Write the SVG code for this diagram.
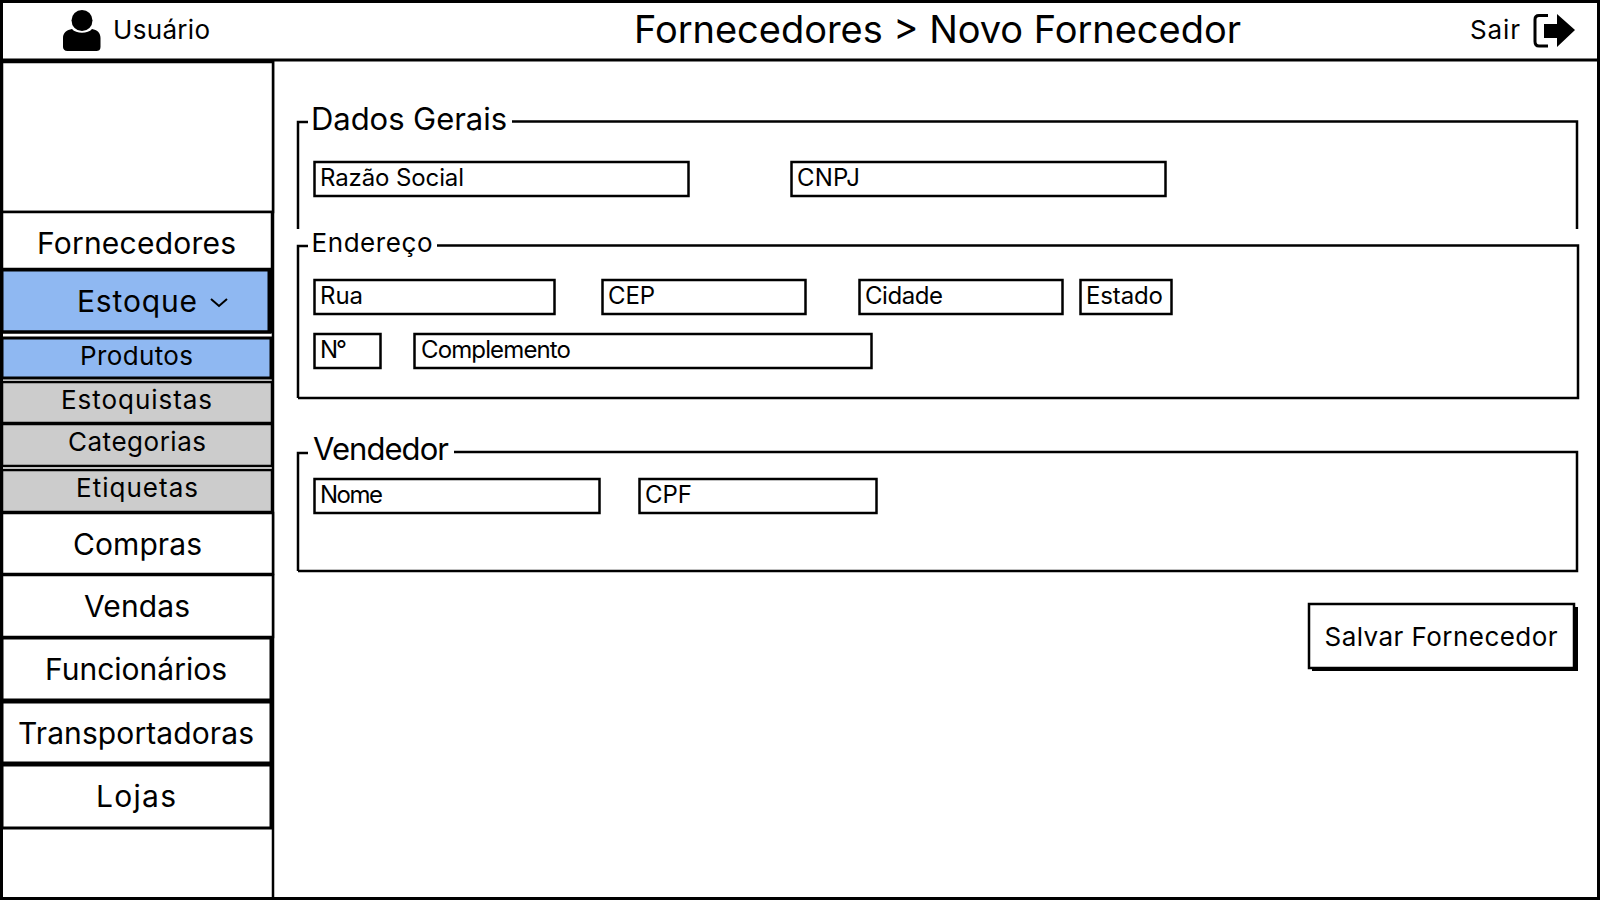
<svg xmlns="http://www.w3.org/2000/svg" width="1600" height="900" viewBox="0 0 1600 900">
<style>
text{font-family:"Inter","Open Sans","DejaVu Sans",sans-serif;fill:#000;font-weight:400}
.m{fill:#fff;stroke:#000;stroke-width:2.5}
.b{fill:#8fb8f2;stroke:#000;stroke-width:3}
.g{fill:#ccc;stroke:#000;stroke-width:2.5}
.f{fill:#fff;stroke:#000;stroke-width:2.5}
.l{fill:none;stroke:#000;stroke-width:2.5}
.t30{font-size:30px}.t26{font-size:26px}.t24{font-size:24px}
</style>
<rect width="1600" height="900" fill="#fff"/>
<g id="frame">
<rect class="l" x="1.500" y="1.500" width="1597" height="897" style="stroke-width:3"/>
<path class="l" d="M2 60H1598" style="stroke-width:3"/>
<path class="l" d="M273 61V898"/>
<path class="l" d="M2 62H272"/>
</g>
<g id="user"><circle cx="82" cy="20.500" r="10.500" fill="#000"/><path fill="#000" d="M72 29c4 5 16 5 20 0 5 1 8.500 3.500 8.500 9v9c0 3-2 4-4 4H67.500c-3 0-4.500-2-4.500-4v-9c0-5.500 4-8 9-9z"/><text class="t26" x="113" y="39" textLength="97">Usuário</text></g>
<g id="title"><text x="634" y="43" font-size="38" textLength="607">Fornecedores &gt; Novo Fornecedor</text></g>
<g id="sair"><text class="t26" x="1470" y="39" textLength="50">Sair</text>
<path fill="none" stroke="#000" stroke-width="3" d="M1548 15.500h-9c-3 0-4 2-4 4v22c0 3 1 4.500 4 4.500h9"/>
<path fill="#000" d="M1544 24h13v-10l18 16-18 17v-9h-13z"/></g>
<g id="logo"><rect class="m" x="2" y="62" width="271" height="150"/></g>
<g id="nav-fornecedores"><rect class="m" x="2" y="212" width="270" height="57"/><text class="t30" x="37" y="254" textLength="199">Fornecedores</text></g>
<g id="nav-estoque"><rect class="b" x="2" y="270" width="269" height="62"/><path d="M269 270V332M2 332H271" stroke="#000" stroke-width="3"/><text class="t30" x="77" y="312" textLength="120">Estoque</text><path class="l" d="M211 299l8 7 8-7" style="stroke-width:2"/></g>
<g id="nav-produtos"><rect class="b" x="2" y="338" width="269" height="40"/><text class="t26" x="80" y="365" textLength="113">Produtos</text></g>
<g id="nav-estoquistas"><rect class="g" x="2" y="382" width="270" height="41"/><text class="t26" x="61" y="409" textLength="151">Estoquistas</text></g>
<g id="nav-categorias"><rect class="g" x="2" y="424" width="270" height="42"/><text class="t26" x="68" y="451" textLength="138">Categorias</text></g>
<g id="nav-etiquetas"><rect class="g" x="2" y="470" width="270" height="42"/><text class="t26" x="76" y="497" textLength="122">Etiquetas</text></g>
<g id="nav-compras"><rect class="m" x="2" y="513" width="271" height="61"/><text class="t30" x="73" y="555" textLength="129">Compras</text></g>
<g id="nav-vendas"><rect class="m" x="2" y="575" width="271" height="62"/><text class="t30" x="84" y="617" textLength="106">Vendas</text></g>
<g id="nav-funcionarios"><rect class="m" x="2" y="638" width="269" height="62" style="stroke-width:3"/><text class="t30" x="45" y="680" textLength="182">Funcionários</text></g>
<g id="nav-transportadoras"><rect class="m" x="2" y="702" width="269" height="61" style="stroke-width:3"/><text class="t30" x="18" y="744" textLength="236">Transportadoras</text></g>
<g id="nav-lojas"><rect class="m" x="2" y="765" width="269" height="63" style="stroke-width:3"/><text class="t30" x="96" y="807" textLength="80">Lojas</text></g>
<g id="group-dados"><path class="l" d="M298 229V122H308M512 121.500H1577V229"/><text x="311" y="130" font-size="31" textLength="196">Dados Gerais</text></g>
<g id="field-razao"><rect class="f" x="314.500" y="162" width="374" height="34"/><text class="t24" x="320" y="186" textLength="144">Razão Social</text></g>
<g id="field-cnpj"><rect class="f" x="791.500" y="162" width="374" height="34"/><text class="t24" x="797" y="186" textLength="63">CNPJ</text></g>
<g id="group-endereco"><path class="l" d="M298 398V246H308M437 245.500H1578V398H298"/><text class="t26" x="311.500" y="252" textLength="121">Endereço</text></g>
<g id="field-rua"><rect class="f" x="314.500" y="280" width="240" height="34"/><text class="t24" x="320" y="304" textLength="43">Rua</text></g>
<g id="field-cep"><rect class="f" x="602.500" y="280" width="203" height="34"/><text class="t24" x="608" y="304" textLength="47">CEP</text></g>
<g id="field-cidade"><rect class="f" x="859.500" y="280" width="203" height="34"/><text class="t24" x="865" y="304" textLength="78">Cidade</text></g>
<g id="field-estado"><rect class="f" x="1080.500" y="280" width="91" height="34"/><text class="t24" x="1086" y="304" textLength="77">Estado</text></g>
<g id="field-numero"><rect class="f" x="314.500" y="334" width="66" height="34"/><text class="t24" x="320" y="358" textLength="27">N°</text></g>
<g id="field-complemento"><rect class="f" x="414.500" y="334" width="457" height="34"/><text class="t24" x="421" y="358" textLength="150">Complemento</text></g>
<g id="group-vendedor"><path class="l" d="M298 571V453H308M454 452H1577V571H298"/><text x="313" y="460" font-size="31" textLength="136">Vendedor</text></g>
<g id="field-nome"><rect class="f" x="314.500" y="479" width="285" height="34"/><text class="t24" x="320" y="503" textLength="63">Nome</text></g>
<g id="field-cpf"><rect class="f" x="639.500" y="479" width="237" height="34"/><text class="t24" x="645" y="503" textLength="47">CPF</text></g>
<g id="btn-salvar"><rect fill="#000" x="1312" y="607" width="266" height="64"/><rect class="m" x="1309" y="604" width="265" height="64"/><text class="t26" x="1324.500" y="646" textLength="233">Salvar Fornecedor</text></g>
</svg>
